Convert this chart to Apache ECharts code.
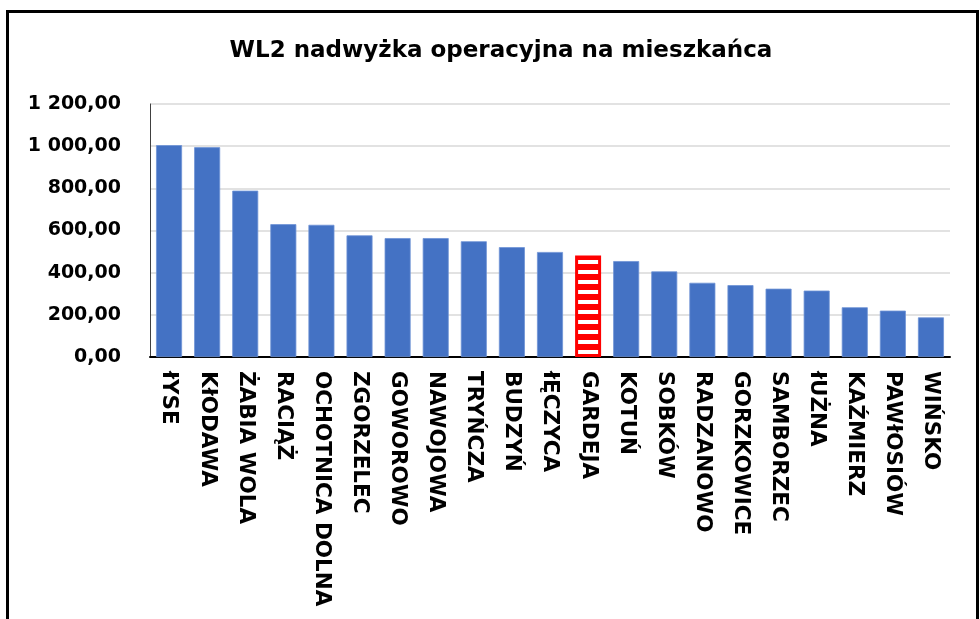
<!DOCTYPE html>
<html>
<head>
<meta charset="utf-8">
<script src="https://cdn.jsdelivr.net/npm/echarts@6/dist/echarts.min.js"></script>
<style>
html,body{margin:0;padding:0;background:#fff;}
#chart{width:980px;height:619px;}
</style>
</head>
<body>
<div id="chart"></div>
<script>
const titleText = 'WL2 nadwyżka operacyjna na mieszkańca';
const categories = ['łYSE','KłODAWA','ŻABIA WOLA','RACIĄŻ','OCHOTNICA DOLNA','ZGORZELEC','GOWOROWO','NAWOJOWA','TRYŃCZA','BUDZYŃ','łĘCZYCA','GARDEJA','KOTUŃ','SOBKÓW','RADZANOWO','GORZKOWICE','SAMBORZEC','łUŻNA','KAŹMIERZ','PAWłOSIÓW','WIŃSKO'];
const values = [1005, 995, 789, 630, 627, 577, 564, 564, 549, 521, 498, 482, 455, 406, 352, 341, 324, 315, 236, 220, 188];
const highlighted = 'GARDEJA';
const yMin = 0, yMax = 1200, yStep = 200;

function fmt(v){
  const parts = v.toFixed(2).split('.');
  const intPart = parts[0].replace(/\B(?=(\d{3})+(?!\d))/g, ' ');
  return intPart + ',' + parts[1];
}

// striped pattern for the highlighted bar
const pc = document.createElement('canvas');
pc.width = 4; pc.height = 10;
const ctx = pc.getContext('2d');
ctx.fillStyle = '#ffffff'; ctx.fillRect(0,0,4,10);
ctx.fillStyle = '#ff0000'; ctx.fillRect(0,4,4,6);

const data = categories.map((c,i)=>{
  if (c === highlighted) {
    return {value: values[i], itemStyle:{color:{image: pc, repeat:'repeat'}, borderColor:'#ff0000', borderWidth:3}};
  }
  return {value: values[i]};
});

const font = 'DejaVu Sans';
const chart = echarts.init(document.getElementById('chart'), null, {renderer:'canvas'});
chart.setOption({
  animation:false,
  backgroundColor:'#ffffff',
  title:{
    text: titleText,
    left: 496, top: 35, textAlign:'center',
    textStyle:{fontFamily: font, fontWeight:'bold', fontSize:23, color:'#000'}
  },
  graphic:[{
    type:'rect',
    shape:{x:7.5, y:11.5, width:970, height:700},
    style:{fill:'none', stroke:'#000', lineWidth:3},
    silent:true, z:100
  }],
  grid:{left:150, right:30, top:104, bottom:262},
  xAxis:{
    type:'category',
    data: categories,
    axisLine:{show:true, lineStyle:{color:'#000', width:2}},
    axisTick:{show:false},
    axisLabel:{rotate:-90, margin:14, interval:0, fontFamily:font, fontWeight:'bold', fontSize:21.5, color:'#000'}
  },
  yAxis:{
    type:'value', min:yMin, max:yMax, interval:yStep,
    axisLine:{show:true, lineStyle:{color:'#404040', width:1}},
    axisTick:{show:false},
    splitLine:{show:true, lineStyle:{color:'#d9d9d9', width:1.5}},
    axisLabel:{margin:29, formatter:fmt, fontFamily:font, fontWeight:'bold', fontSize:19, color:'#000'}
  },
  series:[{
    type:'bar',
    data: data,
    barWidth: 26,
    itemStyle:{color:'#4472C4', borderColor:'#6f93d6', borderWidth:0.8}
  }]
});
</script>
</body>
</html>
